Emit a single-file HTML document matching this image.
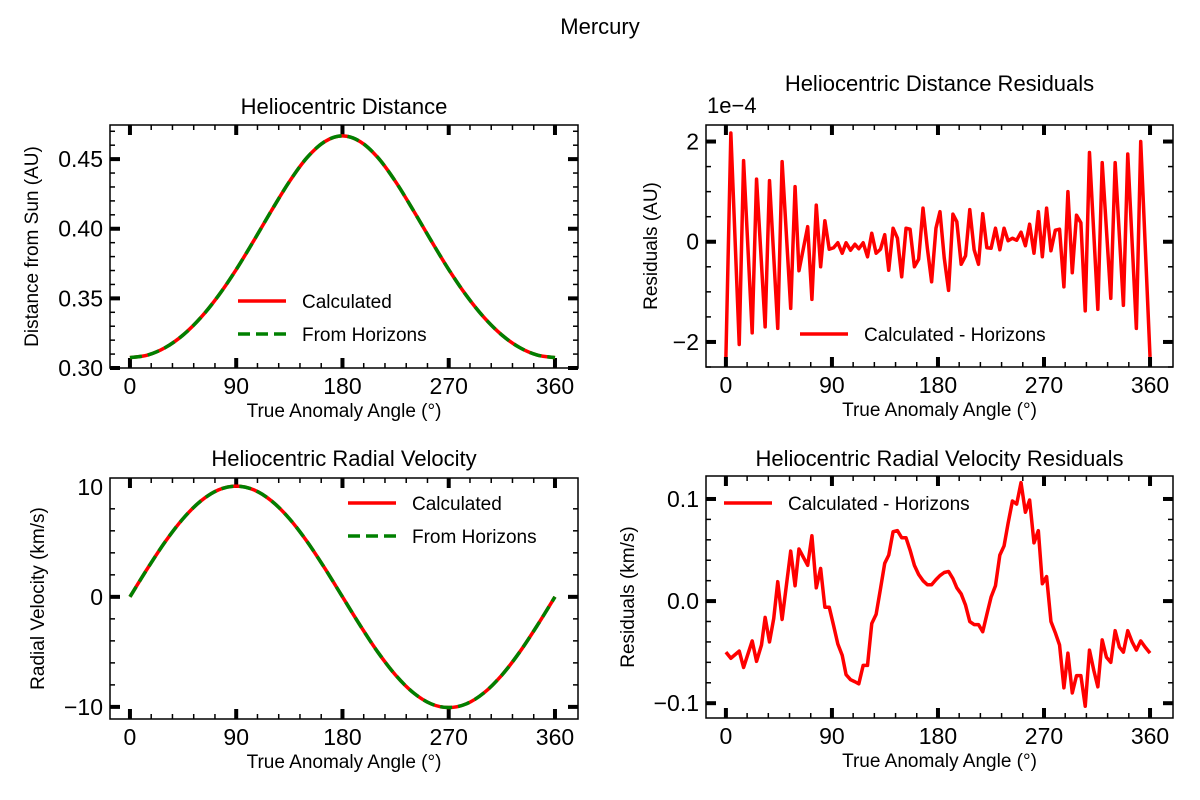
<!DOCTYPE html>
<html><head><meta charset="utf-8"><style>
body{margin:0;background:#fff}
svg{display:block;font-family:"Liberation Sans",Arial,sans-serif}
</style></head><body>
<svg id="c" width="1200" height="800" viewBox="0 0 1200 800">
<text x="600" y="34" font-size="22" text-anchor="middle">Mercury</text>
</svg>
<script>
// Heliocentric distance (AU) sampled every 15°
const distAngles = [0,15,30,45,60,75,90,105,120,135,150,165,180,195,210,225,240,255,270,285,300,315,330,345,360];
const distValues = [0.3075,0.3093,0.3147,0.3237,0.3362,0.3520,0.3707,0.3916,0.4132,0.4338,0.4511,0.4626,0.4667,0.4626,0.4511,0.4338,0.4132,0.3916,0.3707,0.3520,0.3362,0.3237,0.3147,0.3093,0.3075];
// Radial velocity (km/s)
const velAngles = distAngles;
const velValues = [0,2.60,5.03,7.11,8.71,9.72,10.06,9.72,8.71,7.11,5.03,2.60,0,-2.60,-5.03,-7.11,-8.71,-9.72,-10.06,-9.72,-8.71,-7.11,-5.03,-2.60,0];
// Distance residuals (units of 1e-4 AU)
const dresAngles = [0,4.2,11.3,15,22.3,26,33.3,37,44,47.7,55,58.7,62,69.4,73,76.7,80.4,84,87.7,91.4,95,98.7,102,105.8,109.5,112.8,116.5,120.2,123.8,127.5,131.2,134.8,138.2,141.9,145.6,149.2,152.9,156.3,160,163.6,167.3,171,174.6,178.3,181.7,185.3,189,192.7,196,199.7,203.4,207,210.7,214.4,218,221.5,225.1,228.8,232.5,236.1,239.5,243.2,246.8,250.5,254.2,257.8,261.5,265.2,268.6,272.2,275.9,279.6,283.2,286.9,290.3,294,297.6,301.3,305,308.6,315.7,319.4,326.7,330.4,337.4,341.1,348.4,352.1,360];
const dresValues = [-2.3,2.17,-2.05,1.62,-1.82,1.25,-1.7,1.22,-1.73,1.6,-1.33,1.1,-0.58,0.3,-1.15,0.73,-0.5,0.42,-0.15,-0.12,-0.02,-0.23,-0.02,-0.17,-0.05,-0.14,-0.02,-0.3,0.17,-0.23,-0.15,0.14,-0.57,0.27,0.07,-0.7,0.27,0.25,-0.5,-0.35,0.67,-0.13,-0.8,0.27,0.6,-0.32,-0.97,0.55,0.4,-0.45,-0.28,0.64,-0.16,-0.45,0.56,-0.12,-0.13,0.27,-0.16,0.27,0.02,0.07,0.03,0.19,-0.08,0.35,-0.23,0.6,-0.3,0.67,-0.18,0.23,0.25,-0.9,1.0,-0.62,0.53,0.38,-1.38,1.78,-1.35,1.58,-1.13,1.58,-1.27,1.75,-1.73,2.0,-2.3];
// Velocity residuals (km/s)
const vresAngles = [0,4.2,11.3,15,22.3,26,30.2,33.3,37,40.6,44,47.7,55,58.7,62,69.4,73,76.7,80.4,84,87.7,91.4,95,98.7,102,105.8,109.5,112.8,116.5,120.2,123.8,127.5,131.2,134.8,138.2,141.9,145.6,149.2,152.9,156.3,160,163.6,167.3,171,174.6,178.3,181.7,185.3,189,192.7,196,199.7,203.4,207,210.7,214.4,218,221.5,225.1,228.8,232.5,236.1,239.5,243.2,246.8,250.5,254.2,257.8,261.5,265.2,268.6,272.2,275.9,279.6,283.2,286.9,290.3,294,297.6,301.3,305,308.6,312.3,315.7,319.4,323,326.7,330.4,334,337.4,341.1,344.8,348.4,352.1,355.8,360];
const vresValues = [-0.050,-0.056,-0.049,-0.065,-0.039,-0.059,-0.043,-0.016,-0.040,-0.017,0.019,-0.018,0.049,0.015,0.051,0.035,0.064,0.013,0.032,-0.006,-0.006,-0.024,-0.042,-0.053,-0.072,-0.077,-0.079,-0.081,-0.063,-0.063,-0.022,-0.013,0.012,0.037,0.045,0.068,0.069,0.062,0.062,0.050,0.035,0.026,0.020,0.016,0.016,0.021,0.025,0.028,0.029,0.022,0.013,0.007,-0.004,-0.020,-0.023,-0.023,-0.030,-0.013,0.004,0.015,0.045,0.054,0.076,0.098,0.095,0.116,0.087,0.099,0.057,0.069,0.017,0.024,-0.020,-0.031,-0.043,-0.085,-0.051,-0.090,-0.073,-0.073,-0.103,-0.048,-0.068,-0.084,-0.038,-0.055,-0.060,-0.029,-0.045,-0.050,-0.029,-0.040,-0.048,-0.039,-0.045,-0.051];
const xTicks = [0,90,180,270,360];
const distTicks = [0.30,0.35,0.40,0.45];
const dresTicks = [-2,0,2];
const velTicks = [-10,0,10];
const vresTicks = [-0.1,0.0,0.1];

const NS='http://www.w3.org/2000/svg';
const svg=document.getElementById('c');
function mk(tag,attrs,parent){const e=document.createElementNS(NS,tag);for(const k in attrs)e.setAttribute(k,attrs[k]);(parent||svg).appendChild(e);return e;}
const XMIN=-16.9, XMAX=379.5;
function panel(o){
  const g=mk('g',{});
  
  
  const sx=v=>o.x0+(v-XMIN)/(XMAX-XMIN)*(o.x1-o.x0);
  const sy=v=>o.y1-(v-o.ymin)/(o.ymax-o.ymin)*(o.y1-o.y0);
  const tk=(x1,y1,x2,y2,w)=>mk('line',{x1,y1,x2,y2,stroke:'#000','stroke-width':w},g);
  for(let v=0;v<=360;v+=18){const X=sx(v);const maj=v%90===0;const L=maj?10:5,w=maj?4:1.5;
    tk(X,o.y1,X,o.y1-L,w);tk(X,o.y0,X,o.y0+L,w);}
  for(let v=o.ymin;v<=o.ymax+1e-9;v+=o.minor){const r=Math.round(v/o.minor);const vv=r*o.minor;if(vv<o.ymin-1e-9)continue;
    const Y=sy(vv);const maj=Math.abs(vv/o.major-Math.round(vv/o.major))<1e-6;const L=maj?10:5,w=maj?4:1.5;
    tk(o.x0,Y,o.x0+L,Y,w);tk(o.x1,Y,o.x1-L,Y,w);}
  xTicks.forEach(v=>{const t=mk('text',{x:sx(v),y:o.y1+26,'font-size':23,'text-anchor':'middle'},g);t.textContent=v;
    
    });
  o.yt.forEach(v=>{const t=mk('text',{x:o.x0-7,y:sy(v)+8,'font-size':23,'text-anchor':'end'},g);t.textContent=o.fmt(v);
    
    });
  o.series.forEach(s=>{
    const pts=s.a.map((a,i)=>[sx(a),sy(s.v[i])]);
    let d;
    if(s.smooth){d='M'+pts[0];for(let i=0;i<pts.length-1;i++){const p0=pts[i-1]||pts[i],p1=pts[i],p2=pts[i+1],p3=pts[i+2]||p2;
      d+='C'+(p1[0]+(p2[0]-p0[0])/6)+','+(p1[1]+(p2[1]-p0[1])/6)+' '+(p2[0]-(p3[0]-p1[0])/6)+','+(p2[1]-(p3[1]-p1[1])/6)+' '+p2;}}
    else d='M'+pts.join('L');
    const p=mk('path',{d,fill:'none',stroke:s.c,'stroke-width':3.5,'stroke-linejoin':'round'},g);
    if(s.dash)p.setAttribute('stroke-dasharray',s.dash);
    
    
  });
  const fr=mk('rect',{x:o.x0,y:o.y0,width:o.x1-o.x0,height:o.y1-o.y0,fill:'none',stroke:'#000','stroke-width':1.5},g);
  
  
  const tt=mk('text',{x:(o.x0+o.x1)/2,y:o.ty,'font-size':22,'text-anchor':'middle'},g);tt.textContent=o.title;
  
  
  const xl=mk('text',{x:(o.x0+o.x1)/2,y:o.y1+49,'font-size':19,'text-anchor':'middle'},g);xl.textContent='True Anomaly Angle (°)';
  
  
  const yc=(o.y0+o.y1)/2;
  const yl=mk('text',{x:o.ylx,y:yc,'font-size':19,'text-anchor':'middle',transform:`rotate(-90 ${o.ylx} ${yc})`},g);yl.textContent=o.ylabel;
  
  
  o.legend.forEach((l,i)=>{
    const y=o.ly+i*33;
    const ln=mk('line',{x1:o.lx,y1:y,x2:o.lx+48,y2:y,stroke:l.c,'stroke-width':3.5},g);
    if(l.dash)ln.setAttribute('stroke-dasharray',l.dash);
    
    
    const t=mk('text',{x:o.lx+64,y:y+7,'font-size':19},g);t.textContent=l.t;
    
    
  });
}
const calc={c:'#ff0000',t:'Calculated'},hor={c:'#008000',t:'From Horizons',dash:'12 6'},diff={c:'#ff0000',t:'Calculated - Horizons'};
panel({name:'distance-panel',x0:110,x1:578,y0:125,y1:368,ymin:0.30,ymax:0.4745,minor:0.01,major:0.05,yt:distTicks,fmt:v=>v.toFixed(2),
  title:'Heliocentric Distance',ty:114,ylabel:'Distance from Sun (AU)',ylx:38,lx:238,ly:301,legend:[calc,hor],
  series:[{a:distAngles,v:distValues,c:'#ff0000',smooth:1,name:'calculated-distance-line'},{a:distAngles,v:distValues,c:'#008000',dash:'12 6',smooth:1,name:'horizons-distance-line'}]});
panel({name:'distance-residuals-panel',x0:706,x1:1173,y0:125,y1:367,ymin:-2.5,ymax:2.33,minor:0.5,major:2,yt:dresTicks,fmt:v=>v===0?'0':(v<0?'\u2212'+(-v):v),
  title:'Heliocentric Distance Residuals',ty:91,ylabel:'Residuals (AU)',ylx:657,lx:800,ly:334,legend:[diff],
  series:[{a:dresAngles,v:dresValues,c:'#ff0000',name:'distance-residuals-line'}]});
panel({name:'velocity-panel',x0:110,x1:578,y0:478,y1:719,ymin:-11.1,ymax:10.8,minor:2,major:10,yt:velTicks,fmt:v=>v<0?'\u2212'+(-v):v,
  title:'Heliocentric Radial Velocity',ty:466,ylabel:'Radial Velocity (km/s)',ylx:44,lx:348,ly:503,legend:[calc,hor],
  series:[{a:velAngles,v:velValues,c:'#ff0000',smooth:1,name:'calculated-velocity-line'},{a:velAngles,v:velValues,c:'#008000',dash:'12 6',smooth:1,name:'horizons-velocity-line'}]});
panel({name:'velocity-residuals-panel',x0:706,x1:1173,y0:476,y1:718,ymin:-0.1145,ymax:0.1225,minor:0.02,major:0.1,yt:vresTicks,fmt:v=>v<0?'\u2212'+(-v).toFixed(1):v.toFixed(1),
  title:'Heliocentric Radial Velocity Residuals',ty:466,ylabel:'Residuals (km/s)',ylx:634,lx:724,ly:503,legend:[diff],
  series:[{a:vresAngles,v:vresValues,c:'#ff0000',name:'velocity-residuals-line'}]});
const off=mk('text',{x:707,y:113,'font-size':22});off.textContent='1e\u22124';


</script>
</body></html>
